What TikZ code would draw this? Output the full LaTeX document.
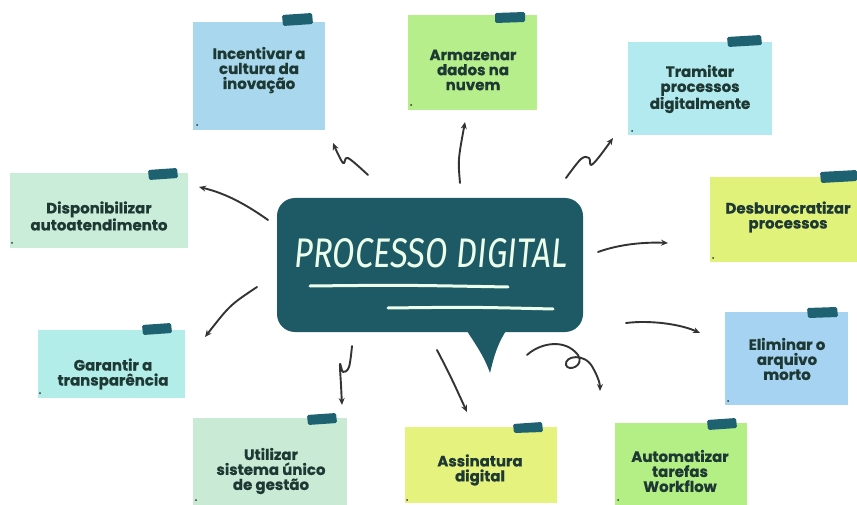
\documentclass[tikz,border=0pt]{standalone}
\usepackage{fontspec}
\setmainfont{Poppins}[BoldFeatures={FakeBold=0.6}]
\newfontfamily\titlefont{Fira Sans}[FakeSlant=0.12]
\usetikzlibrary{arrows.meta}
\definecolor{txt}{HTML}{1E3833}
\definecolor{tabc}{HTML}{1E6272}
\definecolor{bub}{HTML}{1D5A65}
\definecolor{ink}{HTML}{333333}
\definecolor{cInc}{HTML}{A9D8EE}
\definecolor{cArm}{HTML}{B5EE8A}
\definecolor{cTra}{HTML}{B3EAF0}
\definecolor{cDes}{HTML}{E1F27A}
\definecolor{cEli}{HTML}{A7D3F2}
\definecolor{cAut}{HTML}{B3EF85}
\definecolor{cAss}{HTML}{E6F27E}
\definecolor{cUti}{HTML}{C9EBD6}
\definecolor{cGar}{HTML}{B2EDEA}
\definecolor{cDis}{HTML}{C9EDD8}
\begin{document}
\begin{tikzpicture}[x=1pt,y=-1pt,
  note/.style={rectangle, inner sep=0pt, draw=none},
  notetext/.style={inner sep=0pt, align=center, text=txt,
     font=\bfseries\fontsize{15}{15}\selectfont},
  tabmark/.style={fill=tabc, rounded corners=1.5pt},
  dotmark/.style={fill=ink},
  arr/.style={draw=ink, line width=1.9pt, line cap=round, line join=round,
     -{Stealth[length=7pt,width=6pt]}}]
\useasboundingbox (0,0) rectangle (857,505);
\fill[white] (0,0) rectangle (857,505);

% ---------- sticky notes ----------
\node[note, fill=cInc, minimum width=132pt, minimum height=108pt] (inc) at (259,76) {};
\node[note, fill=cArm, minimum width=129pt, minimum height=95pt] (arm) at (472.5,62.5) {};
\node[note, fill=cTra, minimum width=144pt, minimum height=93pt] (tra) at (700,88.5) {};
\node[note, fill=cDes, minimum width=147pt, minimum height=85pt] (des) at (783.5,219.5) {};
\node[note, fill=cEli, minimum width=123pt, minimum height=93pt] (eli) at (786.5,358.5) {};
\node[note, fill=cAut, minimum width=132pt, minimum height=82pt] (aut) at (681,464) {};
\node[note, fill=cAss, minimum width=152pt, minimum height=76pt] (ass) at (481,465) {};
\node[note, fill=cUti, minimum width=154pt, minimum height=87pt] (uti) at (270,461.5) {};
\node[note, fill=cGar, minimum width=147pt, minimum height=68pt] (gar) at (111.5,364) {};
\node[note, fill=cDis, minimum width=178pt, minimum height=75pt] (dis) at (99,210.5) {};

% tabs
\fill[tabmark] (282,15) -- (312,13) -- (313,24) -- (283,26) -- cycle;
\fill[tabmark] (495,13) -- (525,12) -- (525,22) -- (495,23) -- cycle;
\fill[tabmark] (727,37) -- (761,35) -- (762,45) -- (728,47) -- cycle;
\fill[tabmark] (820,172) -- (857,170) -- (857,181) -- (821,183) -- cycle;
\fill[tabmark] (807,308) -- (837,307) -- (838,317) -- (808,318) -- cycle;
\fill[tabmark] (707,420) -- (736,418) -- (737,428) -- (708,430) -- cycle;
\fill[tabmark] (513,424) -- (542,422) -- (543,432) -- (514,433) -- cycle;
\fill[tabmark] (307,415) -- (336,413) -- (337,423) -- (308,425) -- cycle;
\fill[tabmark] (142,325) -- (171,323) -- (172,333) -- (143,335) -- cycle;
\fill[tabmark] (148,170) -- (177,168) -- (178,178) -- (149,180) -- cycle;

% small corner dots
\foreach \p in {(197,125),(411,105),(632,131),(713,258),(728,401),(407,500),(40,393),(12,243),(196,500),(618,500)}
  \fill[dotmark] \p circle (1pt);

% texts
\node[notetext] (incT) at (259,70) {Incentivar a\\cultura da\\inovação};
\node[notetext] (armT) at (473,70) {Armazenar\\dados na\\nuvem};
\node[notetext] (traT) at (700,89) {Tramitar\\processos\\digitalmente};
\node[notetext] (desT) at (788,217) {Desburocratizar\\processos};
\node[notetext] (eliT) at (787,359) {Eliminar o\\arquivo\\morto};
\node[notetext] (autT) at (680,471) {Automatizar\\tarefas\\Workflow};
\node[notetext] (assT) at (480,470) {Assinatura\\digital};
\node[notetext] (utiT) at (271,471) {Utilizar\\sistema único\\de gestão};
\node[notetext] (garT) at (113,374) {Garantir a\\transparência};
\node[notetext] (disT) at (99,216) {Disponibilizar\\autoatendimento};

% ---------- central bubble ----------
\fill[bub] (465,328) .. controls (476,345) and (484,356) .. (490,373)
           .. controls (494,356) and (498,342) .. (508,328) -- cycle;
\node[rectangle, rounded corners=18pt, fill=bub, minimum width=306pt,
      minimum height=134pt, inner sep=0pt] (pd) at (430,265) {};
\node[inner sep=0pt, text=white!92!green] (title) at (430,253)
  {\resizebox{273pt}{29pt}{\titlefont PROCESSO DIGITAL}};
\draw[white!92!green, line width=3pt, line cap=round]
  (310,286) .. controls (400,285) .. (508,287);
\draw[white!92!green, line width=3pt, line cap=round]
  (388,308) .. controls (470,307) .. (553,309);

% ---------- connectors ----------
\coordinate (sInc) at (368,175);  \coordinate (eInc) at (333,143);
\coordinate (sArm) at (460,183);  \coordinate (eArm) at (465,122);
\coordinate (sTra) at (566,178);  \coordinate (eTra) at (613,138);
\coordinate (sDes) at (598,252);  \coordinate (eDes) at (668,243);
\coordinate (sEli) at (626,323);  \coordinate (eEli) at (700,333);
\coordinate (sAut) at (527,355);  \coordinate (eAut) at (600,391);
\coordinate (sAss) at (437,350);  \coordinate (eAss) at (467,412);
\coordinate (sUti) at (352,346);  \coordinate (eUti) at (342,405);
\coordinate (sGar) at (257,287);  \coordinate (eGar) at (205,337);
\coordinate (sDis) at (268,220);  \coordinate (eDis) at (199,187);

\draw[arr] plot[smooth, tension=0.6] coordinates {(sInc) (348,158) (343,163) (eInc)};
\draw[arr] (sArm) .. controls (458,160) .. (eArm);
\draw[arr] plot[smooth, tension=0.6] coordinates {(sTra) (581,159) (589,158) (591,165) (599,157) (eTra)};
\draw[arr] (sDes) .. controls (620,244) and (645,242) .. (eDes);
\draw[arr] (sEli) .. controls (650,320) and (680,324) .. (eEli);
\draw[arr] (sAut) .. controls (540,343) and (565,338) .. (578,355)
  .. controls (585,366) and (568,372) .. (566,365)
  .. controls (564,356) and (585,352) .. (593,368)
  .. controls (597,375) and (600,383) .. (eAut);
\draw[arr] (sAss) .. controls (450,375) .. (eAss);
\draw[arr] plot[smooth, tension=0.6] coordinates {(sUti) (349,367) (343,372) (340,364) (341,385) (eUti)};
\draw[arr] (sGar) .. controls (230,305) .. (eGar);
\draw[arr] (sDis) .. controls (240,200) and (220,192) .. (eDis);
\end{tikzpicture}
\end{document}
